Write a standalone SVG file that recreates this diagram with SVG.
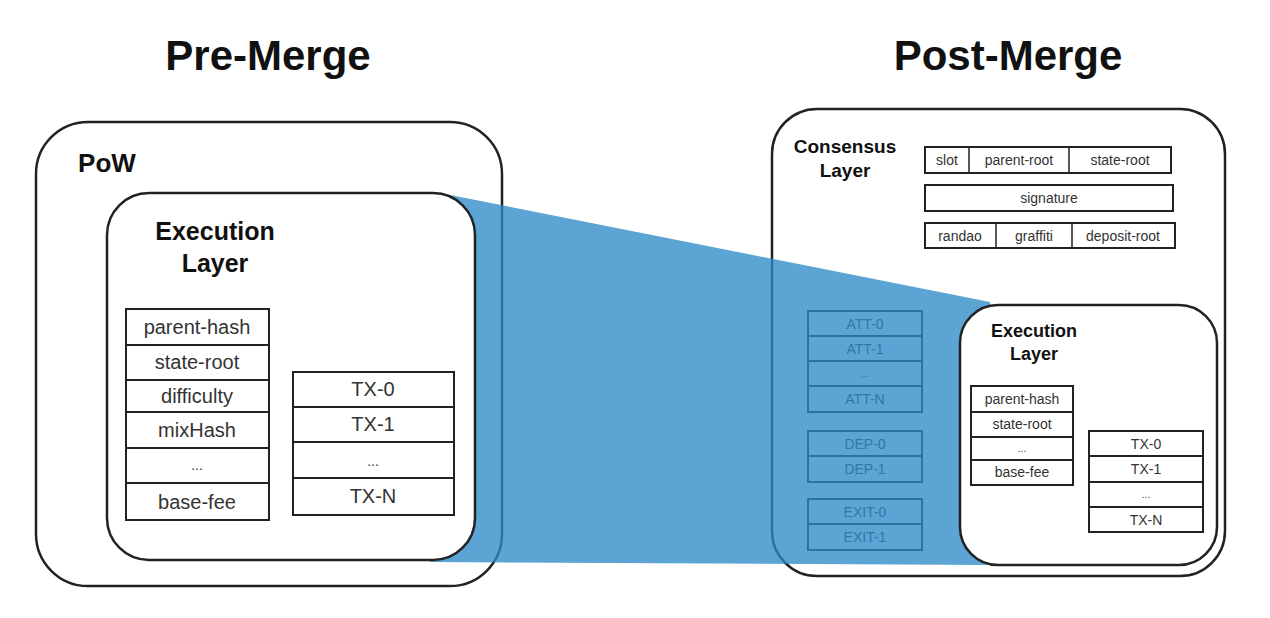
<svg xmlns="http://www.w3.org/2000/svg" width="1270" height="618" viewBox="0 0 1270 618">
<style>
.title{font-family:"Liberation Sans",Arial,sans-serif;font-weight:bold;font-size:42px;fill:#111;text-anchor:middle}
.lbl{font-family:"Liberation Sans",Arial,sans-serif;font-weight:bold;fill:#111;text-anchor:middle}
.box{fill:#fff;stroke:#222;stroke-width:2.5}
.cell{fill:#fff;stroke:#222;stroke-width:2}
.ft{font-family:"Liberation Sans",Arial,sans-serif;fill:#333;text-anchor:middle}
.f20{font-size:20px}
.f15{font-size:15px}
.f14{font-size:14px}
</style>
<rect width="1270" height="618" fill="#fff"/>
<text class="title" x="268" y="70">Pre-Merge</text>
<text class="title" x="1008" y="70">Post-Merge</text>

<g id="pow-box">
<rect class="box" x="36" y="122" width="466" height="464" rx="52"/>
<text class="lbl" x="107" y="172" font-size="26">PoW</text>
</g>

<g id="post-merge-box">
<rect class="box" x="772" y="109" width="453" height="467" rx="45"/>
</g>

<g id="consensus-layer">
<text class="lbl" x="845" y="153" font-size="19">Consensus</text>
<text class="lbl" x="845" y="177" font-size="19">Layer</text>
<g id="cl-row1">
<rect class="cell" x="925" y="147" width="246" height="26" stroke-width="1.5"/>
<line x1="969" y1="147" x2="969" y2="173" stroke="#222" stroke-width="1.5"/>
<line x1="1069" y1="147" x2="1069" y2="173" stroke="#222" stroke-width="1.5"/>
<text class="ft f14" x="947" y="165">slot</text>
<text class="ft f14" x="1019" y="165">parent-root</text>
<text class="ft f14" x="1120" y="165">state-root</text>
</g>
<g id="cl-row2">
<rect class="cell" x="925" y="185" width="248" height="26" stroke-width="1.5"/>
<text class="ft f14" x="1049" y="203">signature</text>
</g>
<g id="cl-row3">
<rect class="cell" x="925" y="223" width="250" height="25" stroke-width="1.5"/>
<line x1="996" y1="223" x2="996" y2="248" stroke="#222" stroke-width="1.5"/>
<line x1="1072" y1="223" x2="1072" y2="248" stroke="#222" stroke-width="1.5"/>
<text class="ft f14" x="960" y="241">randao</text>
<text class="ft f14" x="1034" y="241">graffiti</text>
<text class="ft f14" x="1123" y="241">deposit-root</text>
</g>
<g id="att">
<rect class="cell" x="808" y="311" width="114" height="25"/>
<rect class="cell" x="808" y="336" width="114" height="25"/>
<rect class="cell" x="808" y="361" width="114" height="25"/>
<rect class="cell" x="808" y="386" width="114" height="26"/>
<text class="ft f14" x="865" y="329">ATT-0</text>
<text class="ft f14" x="865" y="354">ATT-1</text>
<text class="ft" x="865" y="377" font-size="11">...</text>
<text class="ft f14" x="865" y="404">ATT-N</text>
</g>
<g id="dep">
<rect class="cell" x="808" y="431" width="114" height="25"/>
<rect class="cell" x="808" y="456" width="114" height="26"/>
<text class="ft f14" x="865" y="449">DEP-0</text>
<text class="ft f14" x="865" y="474">DEP-1</text>
</g>
<g id="exit">
<rect class="cell" x="808" y="499" width="114" height="25"/>
<rect class="cell" x="808" y="524" width="114" height="26"/>
<text class="ft f14" x="865" y="517">EXIT-0</text>
<text class="ft f14" x="865" y="542">EXIT-1</text>
</g>
</g>

<g id="connectors">
<path d="M440,193 L990,302 L990,565 L430,562 Z" fill="#2D8AC7" fill-opacity="0.78"/>
</g>

<g id="pre-execution-layer">
<rect class="box" x="107" y="193" width="368" height="367" rx="42"/>
<text class="lbl" x="215" y="240" font-size="25">Execution</text>
<text class="lbl" x="215" y="272" font-size="25">Layer</text>
<g id="pre-header">
<rect class="cell" x="126" y="309" width="143" height="36"/>
<rect class="cell" x="126" y="345" width="143" height="35"/>
<rect class="cell" x="126" y="380" width="143" height="32"/>
<rect class="cell" x="126" y="412" width="143" height="36"/>
<rect class="cell" x="126" y="448" width="143" height="35"/>
<rect class="cell" x="126" y="483" width="143" height="37"/>
<text class="ft f20" x="197" y="334">parent-hash</text>
<text class="ft f20" x="197" y="369">state-root</text>
<text class="ft f20" x="197" y="403">difficulty</text>
<text class="ft f20" x="197" y="437">mixHash</text>
<text class="ft" x="197" y="470" font-size="14">...</text>
<text class="ft f20" x="197" y="509">base-fee</text>
</g>
<g id="pre-txs">
<rect class="cell" x="293" y="372" width="161" height="35"/>
<rect class="cell" x="293" y="407" width="161" height="35"/>
<rect class="cell" x="293" y="442" width="161" height="36"/>
<rect class="cell" x="293" y="478" width="161" height="37"/>
<text class="ft f20" x="373" y="396">TX-0</text>
<text class="ft f20" x="373" y="431">TX-1</text>
<text class="ft" x="373" y="466" font-size="14">...</text>
<text class="ft f20" x="373" y="503">TX-N</text>
</g>
</g>

<g id="post-execution-layer">
<rect class="box" x="960" y="305" width="257" height="260" rx="38"/>
<text class="lbl" x="1034" y="337" font-size="18">Execution</text>
<text class="lbl" x="1034" y="360" font-size="18">Layer</text>
<g id="post-header">
<rect class="cell" x="971" y="386" width="102" height="26" stroke-width="1.5"/>
<rect class="cell" x="971" y="412" width="102" height="25" stroke-width="1.5"/>
<rect class="cell" x="971" y="437" width="102" height="23" stroke-width="1.5"/>
<rect class="cell" x="971" y="460" width="102" height="25" stroke-width="1.5"/>
<text class="ft f14" x="1022" y="404">parent-hash</text>
<text class="ft f14" x="1022" y="429" fill="#555">state-root</text>
<text class="ft" x="1022" y="452" font-size="10" fill="#777">...</text>
<text class="ft f14" x="1022" y="477">base-fee</text>
</g>
<g id="post-txs">
<rect class="cell" x="1089" y="431" width="114" height="25" stroke-width="1.5"/>
<rect class="cell" x="1089" y="456" width="114" height="26" stroke-width="1.5"/>
<rect class="cell" x="1089" y="482" width="114" height="25" stroke-width="1.5"/>
<rect class="cell" x="1089" y="507" width="114" height="25" stroke-width="1.5"/>
<text class="ft f14" x="1146" y="449">TX-0</text>
<text class="ft f14" x="1146" y="474">TX-1</text>
<text class="ft" x="1146" y="498" font-size="10" fill="#666">...</text>
<text class="ft f14" x="1146" y="525">TX-N</text>
</g>
</g>
</svg>
